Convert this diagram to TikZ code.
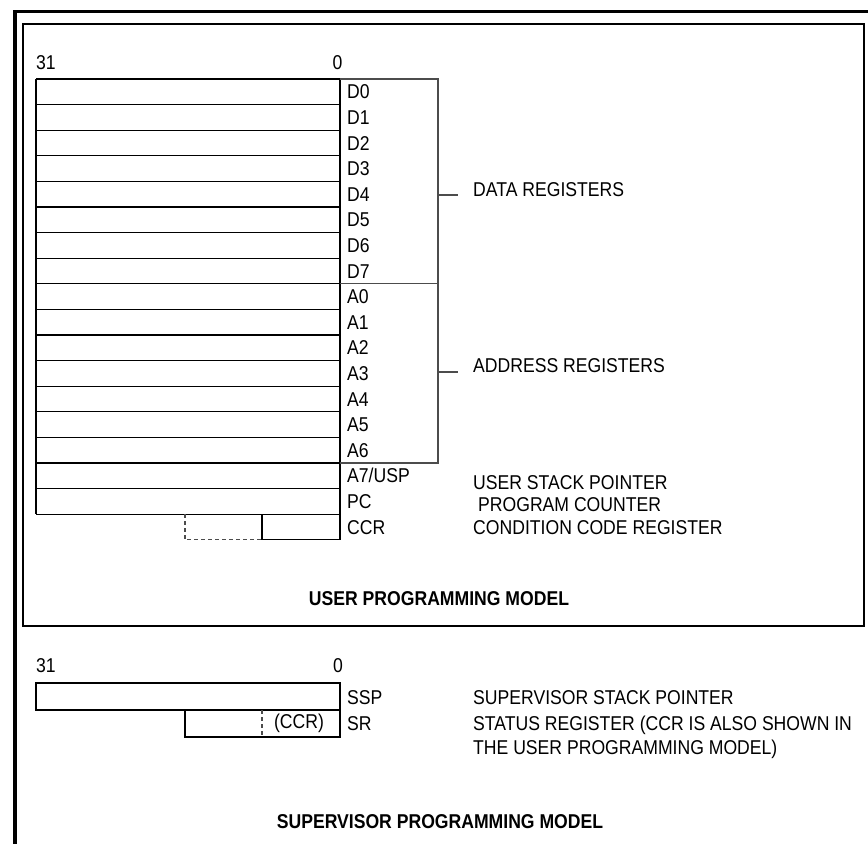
\documentclass[tikz,border=0pt]{standalone}
\usepackage{fontspec}
\setmainfont{Liberation Sans}[FakeStretch=0.88]
\begin{document}
\begin{tikzpicture}[x=1pt,y=-1pt,
  reg/.style={line width=1.2pt},
  brk/.style={line width=1.2pt, draw=black!70},
  dsh/.style={line width=1.2pt, draw=black!70, dash pattern=on 4pt off 3pt},
  lab/.style={inner sep=0pt, text height=14.3pt, text depth=0pt, anchor=west, font=\fontsize{20}{23}\selectfont},
  num/.style={inner sep=0pt, text height=14.3pt, text depth=0pt, font=\fontsize{20}{23}\selectfont},
  ttl/.style={inner sep=0pt, font=\fontsize{20}{23}\selectfont\bfseries},
  outerframe/.style={line width=3.8pt},
  innerbox/.style={line width=2.5pt}]
\useasboundingbox (0,0) rectangle (868,844);
\fill[white] (0,0) rectangle (868,844);
\draw[outerframe] (868,11.5) -- (15,11.5) -- (15,844);
\draw[innerbox] (23,24) rectangle (864,626);

% ---------- user programming model ----------
\node[lab] (b31) at (36,62) {31};
\node[num] (b0) at (337.5,62) {0};

\foreach \i in {0,...,17} \draw[reg] (36,{79+25.6*\i}) -- (340,{79+25.6*\i});
\draw[reg] (36,79) -- (36,514.2);
\draw[reg] (340,79) -- (340,539.8);
\draw[reg] (262,514.2) -- (262,539.8) -- (340,539.8);
\draw[dsh] (185,514.2) -- (185,539.8) -- (262,539.8);

% bracket
\draw[brk] (340,79) -- (438,79) -- (438,463) -- (340,463);
\draw[brk] (340,283.8) -- (438,283.8);

\foreach \t [count=\i from 0] in {D0,D1,D2,D3,D4,D5,D6,D7,A0,A1,A2,A3,A4,A5,A6,A7/USP,PC,CCR}
  \node[lab] (r\i) at (347,{79+25.6*\i+12.8}) {\t};

\coordinate (dtA) at (438,195);
\coordinate (dtB) at (458,195);
\draw[brk] (dtA) -- (dtB);
\node[lab] (data) at (473,189) {DATA REGISTERS};
\coordinate (atA) at (438,372);
\coordinate (atB) at (458,372);
\draw[brk] (atA) -- (atB);
\node[lab] (addr) at (473,365) {ADDRESS REGISTERS};

\node[lab] (usp) at (473,482) {USER STACK POINTER};
\node[lab] (pc) at (478,504) {PROGRAM COUNTER};
\node[lab] (ccr) at (473,527) {CONDITION CODE REGISTER};

\node[ttl] (umodel) at (439,599) {USER PROGRAMMING MODEL};

% ---------- supervisor programming model ----------
\node[lab] (s31) at (36,665) {31};
\node[num] (s0) at (338,665) {0};
\draw[reg] (36,683) rectangle (340,710);
\draw[reg] (185,710) -- (185,737) -- (340,737) -- (340,710);
\draw[dsh] (262,710) -- (262,737);
\node[font=\fontsize{20}{23}\selectfont, inner sep=0pt] (sccr) at (299,723) {(CCR)};
\node[lab] (ssp) at (347,697) {SSP};
\node[lab] (sr) at (347,723) {SR};
\node[lab] (sspt) at (473,697) {SUPERVISOR STACK POINTER};
\node[lab] (srt1) at (473,723) {STATUS REGISTER (CCR IS ALSO SHOWN IN};
\node[lab] (srt2) at (473,747) {THE USER PROGRAMMING MODEL)};

\node[ttl] (smodel) at (440,822) {SUPERVISOR PROGRAMMING MODEL};
\end{tikzpicture}
\end{document}
